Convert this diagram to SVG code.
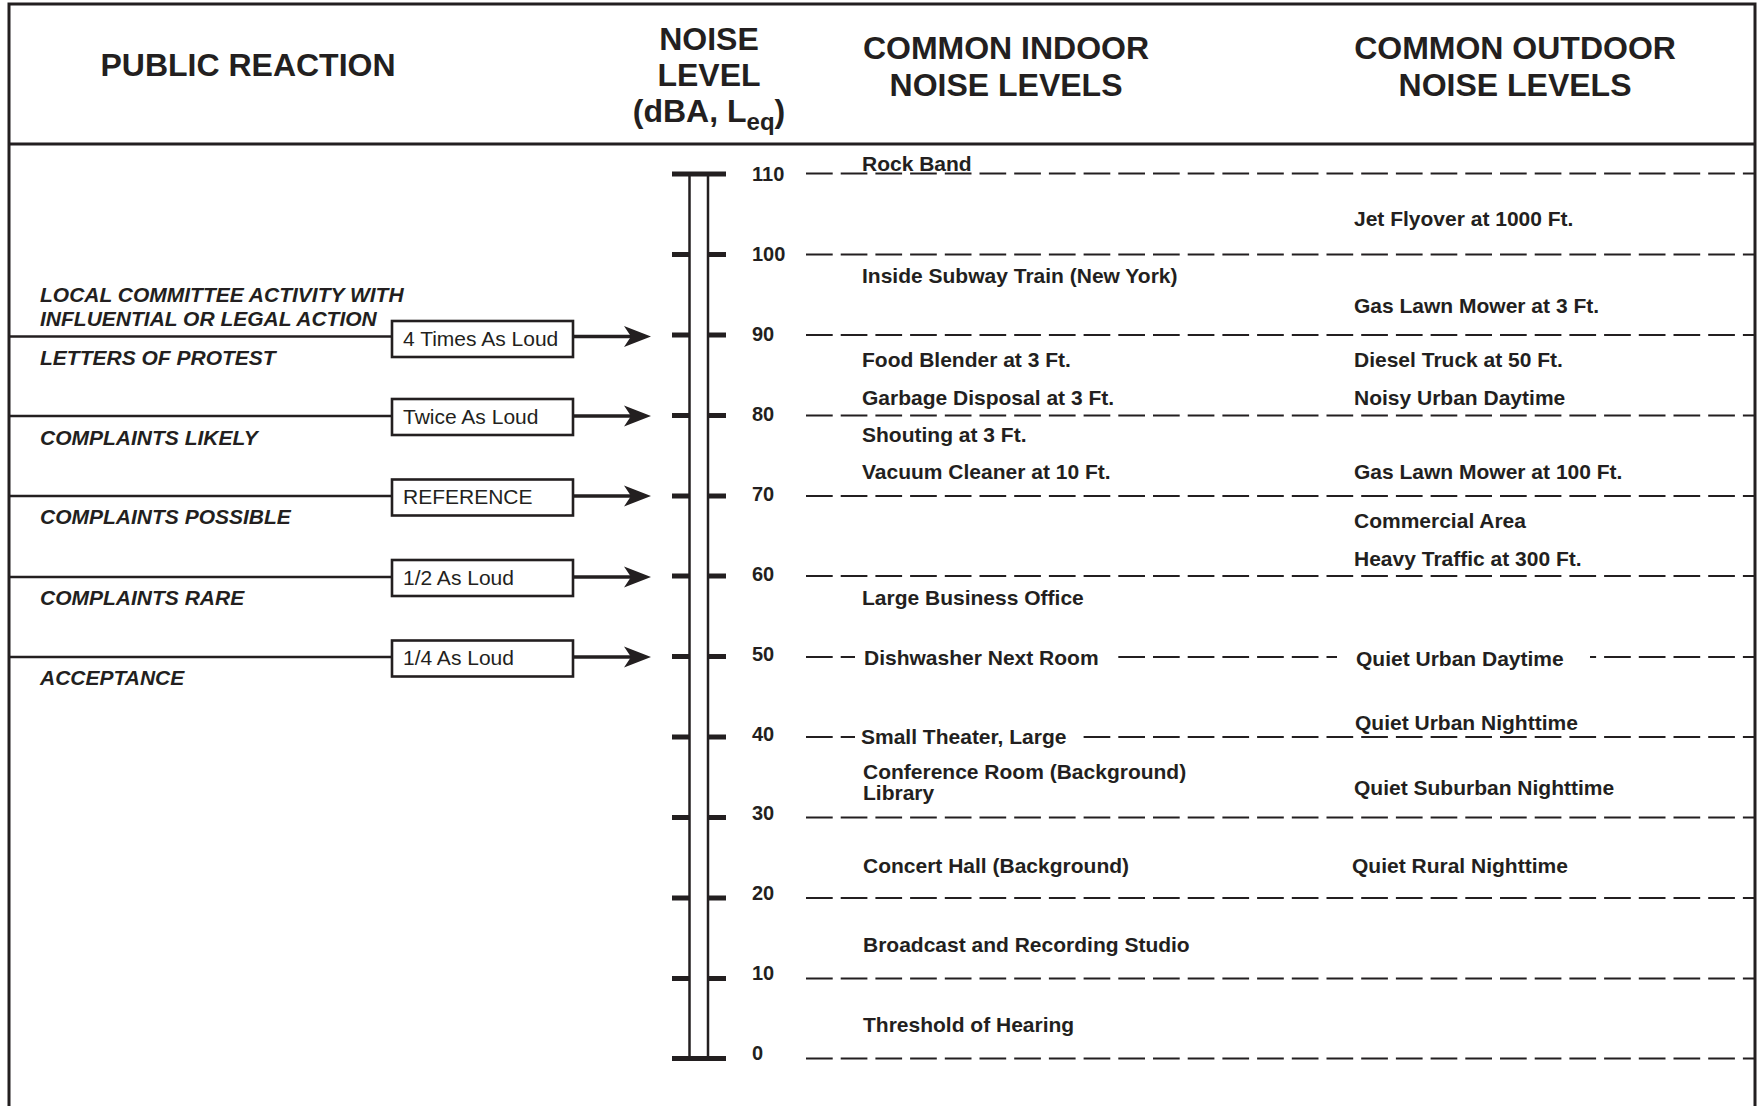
<svg xmlns="http://www.w3.org/2000/svg" width="1760" height="1106" viewBox="0 0 1760 1106">
  <defs>
    <style>
      text { font-family: "Liberation Sans", Arial, Helvetica, sans-serif; fill: #231f20; }
      .hdr { font-size: 32px; font-weight: bold; text-anchor: middle; }
      .lbl { font-size: 21px; font-weight: bold; }
      .rx { font-size: 21px; font-weight: bold; font-style: italic; }
      .bx { font-size: 21px; }
      .num { font-size: 20px; font-weight: bold; }
      .frame { fill: none; stroke: #231f20; stroke-width: 3; }
      .dash { fill: none; stroke: #231f20; stroke-width: 2; stroke-dasharray: 26.7 8; }
      .tick { stroke: #231f20; stroke-width: 5; }
      .bar { stroke: #231f20; stroke-width: 2.5; }
      .conn { stroke: #231f20; stroke-width: 2.7; fill: none; }
      .arr { stroke: #231f20; stroke-width: 3.4; fill: none; marker-end: url(#ah); }
      .box { fill: #fff; stroke: #231f20; stroke-width: 2.6; }
    </style>
    <marker id="ah" markerUnits="userSpaceOnUse" markerWidth="28" markerHeight="22" refX="21" refY="10.5" orient="auto" viewBox="0 0 28 21">
      <path d="M0,0 L27,10.5 L0,21 L7,10.5 Z" fill="#231f20"/>
    </marker>
  </defs>

  <rect width="1760" height="1106" fill="#fff"/>

  <g id="frame">
    <rect class="frame" x="9" y="4" width="1746" height="1200"/>
    <line class="frame" x1="9" y1="144" x2="1755" y2="144"/>
  </g>

  <g id="headers">
    <text class="hdr" x="248" y="76">PUBLIC REACTION</text>
    <text class="hdr" x="709" y="50">NOISE</text>
    <text class="hdr" x="709" y="86">LEVEL</text>
    <text class="hdr" x="709" y="122">(dBA, L<tspan font-size="24" dy="8">eq</tspan><tspan dy="-8">)</tspan></text>
    <text class="hdr" x="1006" y="59">COMMON INDOOR</text>
    <text class="hdr" x="1006" y="96">NOISE LEVELS</text>
    <text class="hdr" x="1515" y="59">COMMON OUTDOOR</text>
    <text class="hdr" x="1515" y="96">NOISE LEVELS</text>
  </g>

  <g id="level-lines">
    <line class="dash" x1="806" y1="173.5" x2="1755" y2="173.5"/>
    <line class="dash" x1="806" y1="254.5" x2="1755" y2="254.5"/>
    <line class="dash" x1="806" y1="335" x2="1755" y2="335"/>
    <line class="dash" x1="806" y1="415.5" x2="1755" y2="415.5"/>
    <line class="dash" x1="806" y1="496" x2="1755" y2="496"/>
    <line class="dash" x1="806" y1="576" x2="1755" y2="576"/>
    <line class="dash" x1="806" y1="657" x2="855" y2="657"/>
    <line class="dash" x1="1115" y1="657" x2="1337" y2="657" stroke-dashoffset="309"/>
    <line class="dash" x1="1590" y1="657" x2="1755" y2="657" stroke-dashoffset="784"/>
    <line class="dash" x1="806" y1="737" x2="855" y2="737"/>
    <line class="dash" x1="1082" y1="737" x2="1755" y2="737" stroke-dashoffset="276"/>
    <line class="dash" x1="806" y1="817.5" x2="1755" y2="817.5"/>
    <line class="dash" x1="806" y1="898" x2="1755" y2="898"/>
    <line class="dash" x1="806" y1="978.5" x2="1755" y2="978.5"/>
    <line class="dash" x1="806" y1="1058.5" x2="1755" y2="1058.5"/>
  </g>

  <g id="scale">
    <rect x="689.5" y="174" width="18.5" height="884.5" fill="#fff"/>
    <line class="bar" x1="689.5" y1="174" x2="689.5" y2="1058.5"/>
    <line class="bar" x1="708" y1="174" x2="708" y2="1058.5"/>
    <line class="tick" x1="672" y1="174" x2="726" y2="174"/>
    <line class="tick" x1="672" y1="1058.5" x2="726" y2="1058.5"/>
    <g id="ticks">
      <path class="tick" d="M672,254.5H689M708,254.5H726M672,335H689M708,335H726M672,415.5H689M708,415.5H726M672,496H689M708,496H726M672,576H689M708,576H726M672,656.5H689M708,656.5H726M672,737H689M708,737H726M672,817.5H689M708,817.5H726M672,898H689M708,898H726M672,978.5H689M708,978.5H726"/>
    </g>
    <g id="scale-numbers">
      <text class="num" x="752" y="181.2">110</text>
      <text class="num" x="752" y="261.1">100</text>
      <text class="num" x="752" y="341">90</text>
      <text class="num" x="752" y="420.9">80</text>
      <text class="num" x="752" y="500.8">70</text>
      <text class="num" x="752" y="580.7">60</text>
      <text class="num" x="752" y="660.6">50</text>
      <text class="num" x="752" y="740.5">40</text>
      <text class="num" x="752" y="820.4">30</text>
      <text class="num" x="752" y="900.3">20</text>
      <text class="num" x="752" y="980.2">10</text>
      <text class="num" x="752" y="1060.1">0</text>
    </g>
  </g>

  <g id="connectors">
    <line class="conn" x1="9" y1="336.5" x2="392" y2="336.5"/>
    <line class="arr" x1="573" y1="336.5" x2="645" y2="336.5"/>
    <line class="conn" x1="9" y1="416" x2="392" y2="416"/>
    <line class="arr" x1="573" y1="416" x2="645" y2="416"/>
    <line class="conn" x1="9" y1="496" x2="392" y2="496"/>
    <line class="arr" x1="573" y1="496" x2="645" y2="496"/>
    <line class="conn" x1="9" y1="577" x2="392" y2="577"/>
    <line class="arr" x1="573" y1="577" x2="645" y2="577"/>
    <line class="conn" x1="9" y1="657" x2="392" y2="657"/>
    <line class="arr" x1="573" y1="657" x2="645" y2="657"/>
  </g>

  <g id="box-4x">
    <rect class="box" x="392" y="321" width="181" height="36"/>
    <text class="bx" x="403" y="345.5">4 Times As Loud</text>
  </g>
  <g id="box-2x">
    <rect class="box" x="392" y="399" width="181" height="36"/>
    <text class="bx" x="403" y="423.5">Twice As Loud</text>
  </g>
  <g id="box-ref">
    <rect class="box" x="392" y="479.5" width="181" height="36"/>
    <text class="bx" x="403" y="504">REFERENCE</text>
  </g>
  <g id="box-half">
    <rect class="box" x="392" y="560" width="181" height="36"/>
    <text class="bx" x="403" y="584.5">1/2 As Loud</text>
  </g>
  <g id="box-quarter">
    <rect class="box" x="392" y="640.5" width="181" height="36"/>
    <text class="bx" x="403" y="665">1/4 As Loud</text>
  </g>

  <g id="public-reaction">
    <text class="rx" x="40" y="302">LOCAL COMMITTEE ACTIVITY WITH</text>
    <text class="rx" x="40" y="326">INFLUENTIAL OR LEGAL ACTION</text>
    <text class="rx" x="40" y="365">LETTERS OF PROTEST</text>
    <text class="rx" x="40" y="445">COMPLAINTS LIKELY</text>
    <text class="rx" x="40" y="524">COMPLAINTS POSSIBLE</text>
    <text class="rx" x="40" y="605">COMPLAINTS RARE</text>
    <text class="rx" x="40" y="685">ACCEPTANCE</text>
  </g>

  <g id="indoor">
    <text class="lbl" x="862" y="171">Rock Band</text>
    <text class="lbl" x="862" y="283">Inside Subway Train (New York)</text>
    <text class="lbl" x="862" y="367">Food Blender at 3 Ft.</text>
    <text class="lbl" x="862" y="404.5">Garbage Disposal at 3 Ft.</text>
    <text class="lbl" x="862" y="442">Shouting at 3 Ft.</text>
    <text class="lbl" x="862" y="478.5">Vacuum Cleaner at 10 Ft.</text>
    <text class="lbl" x="862" y="605">Large Business Office</text>
    <text class="lbl" x="864" y="665">Dishwasher Next Room</text>
    <text class="lbl" x="861" y="744">Small Theater, Large</text>
    <text class="lbl" x="863" y="778.5">Conference Room (Background)</text>
    <text class="lbl" x="863" y="800">Library</text>
    <text class="lbl" x="863" y="872.5">Concert Hall (Background)</text>
    <text class="lbl" x="863" y="952">Broadcast and Recording Studio</text>
    <text class="lbl" x="863" y="1031.5">Threshold of Hearing</text>
  </g>

  <g id="outdoor">
    <text class="lbl" x="1354" y="226">Jet Flyover at 1000 Ft.</text>
    <text class="lbl" x="1354" y="313">Gas Lawn Mower at 3 Ft.</text>
    <text class="lbl" x="1354" y="367">Diesel Truck at 50 Ft.</text>
    <text class="lbl" x="1354" y="404.5">Noisy Urban Daytime</text>
    <text class="lbl" x="1354" y="478.5">Gas Lawn Mower at 100 Ft.</text>
    <text class="lbl" x="1354" y="528">Commercial Area</text>
    <text class="lbl" x="1354" y="566">Heavy Traffic at 300 Ft.</text>
    <text class="lbl" x="1356" y="665.5">Quiet Urban Daytime</text>
    <text class="lbl" x="1355" y="730">Quiet Urban Nighttime</text>
    <text class="lbl" x="1354" y="795">Quiet Suburban Nighttime</text>
    <text class="lbl" x="1352" y="872.5">Quiet Rural Nighttime</text>
  </g>
</svg>
